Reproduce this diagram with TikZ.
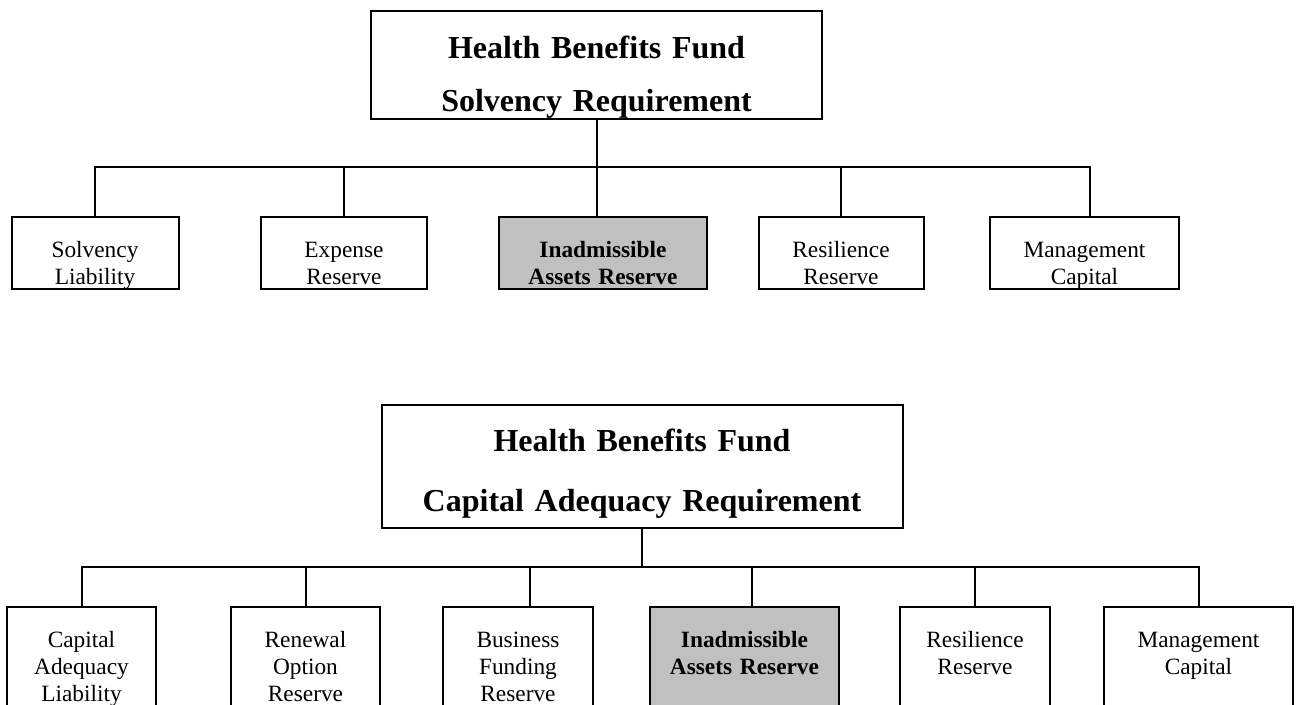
\documentclass[tikz,border=0pt]{standalone}
\usepackage{fontspec}
\setmainfont{Liberation Serif}
\usepackage{xcolor}
\usepackage{tikz}

\definecolor{boxgray}{RGB}{192,192,192}
% strut above the first line and below the last one
\newcommand{\padded}[3]{\rule{0pt}{#1}#3\rule[-#2]{0pt}{#2}}

\begin{document}
\begin{tikzpicture}[x=0.75pt,y=-0.75pt,
  head/.style={draw,line width=1.5pt,align=center,anchor=north,inner sep=0pt,
    font=\fontsize{24}{39.75}\selectfont\bfseries},
  leaf/.style={draw,line width=1.5pt,align=center,anchor=north,inner sep=0pt,
    font=\fontsize{17.5}{20.25}\selectfont},
  shaded/.style={leaf,fill=boxgray,font=\fontsize{17.5}{20.25}\selectfont\bfseries},
  link/.style={line width=1.5pt}]
\useasboundingbox (0,0) rectangle (1299,704);

% solvency requirement
\node[head,text width=338.25pt] (solv) at (596.5,10)
  {\padded{35.25pt}{6pt}{Health Benefits Fund\\Solvency Requirement}};
\node[leaf,text width=125.25pt]   (sl)   at (95,216)    {\padded{30pt}{4pt}{Solvency\\Liability}};
\node[leaf,text width=124.5pt]    (er)   at (344,216)   {\padded{30pt}{4pt}{Expense\\Reserve}};
\node[shaded,text width=156pt]    (iar1) at (603,216)   {\padded{30pt}{4pt}{Inadmissible\\Assets Reserve}};
\node[leaf,text width=123.75pt]   (rr1)  at (841,216)   {\padded{30pt}{4pt}{Resilience\\Reserve}};
\node[leaf,text width=141.75pt]   (mc1)  at (1084.5,216) {\padded{30pt}{4pt}{Management\\Capital}};

\coordinate (b1) at (596.5,167);
\draw[link] (solv.south) -- (solv.south |- iar1.north);
\foreach \n/\dx in {sl/0,er/0,rr1/0,mc1/5.5}
  \draw[link] ([xshift=\dx*0.75pt]\n.north) |- (b1);

% capital adequacy requirement
\node[head,text width=390.75pt,font=\fontsize{24}{45}\selectfont\bfseries] (cap) at (642,404)
  {\padded{34.5pt}{12.75pt}{Health Benefits Fund\\Capital Adequacy Requirement}};
\node[leaf,text width=111.75pt]   (cal)  at (81.5,606)   {\padded{30pt}{40pt}{Capital\\Adequacy\\Liability}};
\node[leaf,text width=111.75pt]   (ror)  at (305.5,606)  {\padded{30pt}{40pt}{Renewal\\Option\\Reserve}};
\node[leaf,text width=112.5pt]    (bfr)  at (518,606)    {\padded{30pt}{40pt}{Business\\Funding\\Reserve}};
\node[shaded,text width=141.75pt] (iar2) at (744.5,606)  {\padded{30pt}{40pt}{Inadmissible\\Assets Reserve}};
\node[leaf,text width=112.5pt]    (rr2)  at (975,606)    {\padded{30pt}{40pt}{Resilience\\Reserve}};
\node[leaf,text width=141.75pt]   (mc2)  at (1198.5,606) {\padded{30pt}{40pt}{Management\\Capital}};

\coordinate (b2) at (642,567);
\draw[link] (cap.south) -- (b2);
\foreach \n/\dx in {cal/0,ror/0,bfr/12,iar2/7.5,rr2/0,mc2/0}
  \draw[link] ([xshift=\dx*0.75pt]\n.north) |- (b2);

\end{tikzpicture}
\end{document}
